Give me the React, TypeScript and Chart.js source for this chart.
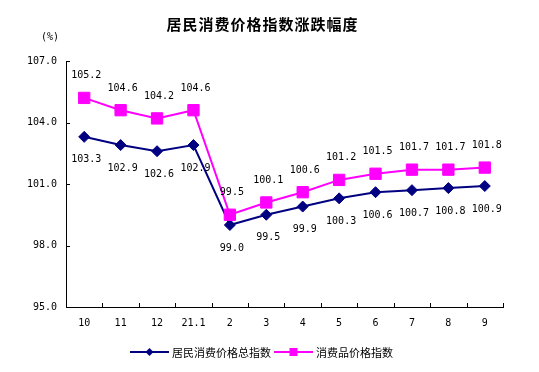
import React, { useEffect, useRef } from 'react';
import { Chart, registerables } from 'chart.js';

Chart.register(...registerables);

const categories = ['10', '11', '12', '21.1', '2', '3', '4', '5', '6', '7', '8', '9'];
const cpiTotal = [103.3, 102.9, 102.6, 102.9, 99.0, 99.5, 99.9, 100.3, 100.6, 100.7, 100.8, 100.9];
const consumerGoods = [105.2, 104.6, 104.2, 104.6, 99.5, 100.1, 100.6, 101.2, 101.5, 101.7, 101.7, 101.8];
const seriesNames = ['居民消费价格总指数', '消费品价格指数'];
const titleText = '居民消费价格指数涨跌幅度';
const unitText = '(%)';
const yMin = 95;
const yMax = 107;
const yStep = 3;

const NAVY = '#000080';
const MAGENTA = '#FF00FF';
const MONO = '"DejaVu Sans Mono", "Liberation Mono", monospace';
const CJK = '"Noto Sans CJK SC", "Noto Sans", sans-serif';

const decorPlugin = {
  id: 'decor',
  afterDatasetsDraw(chart: any) {
    const ctx = chart.ctx;
    ctx.save();
    ctx.font = `10px ${MONO}`;
    ctx.fillStyle = '#000';
    ctx.textAlign = 'center';
    ctx.textBaseline = 'middle';
    chart.data.datasets.forEach((ds: any, i: number) => {
      const meta = chart.getDatasetMeta(i);
      const below = ds.labelPos === 'below';
      meta.data.forEach((pt: any, j: number) => {
        const v = ds.data[j];
        ctx.fillText(v.toFixed(1), pt.x + 2, pt.y + (below ? 23 : -22));
      });
    });
    ctx.restore();
  },
  afterDraw(chart: any) {
    const ctx = chart.ctx;
    const xs = chart.scales.x;
    const ys = chart.scales.y;
    const area = chart.chartArea;
    ctx.save();
    ctx.strokeStyle = '#000';
    ctx.lineWidth = 1;
    // inward y ticks
    ys.ticks.forEach((t: any) => {
      const py = Math.round(ys.getPixelForValue(t.value)) + 0.5;
      ctx.beginPath();
      ctx.moveTo(area.left, py);
      ctx.lineTo(area.left + 4, py);
      ctx.stroke();
    });
    // inward x ticks at category boundaries
    const n = categories.length;
    const step = xs.getPixelForValue(1) - xs.getPixelForValue(0);
    for (let k = 1; k <= n; k++) {
      const px = Math.round(xs.getPixelForValue(k - 1) + step / 2) + 0.5;
      ctx.beginPath();
      ctx.moveTo(px, area.bottom);
      ctx.lineTo(px, area.bottom - 4);
      ctx.stroke();
    }

    // title
    const cx = chart.width / 2 - 8;
    ctx.fillStyle = '#000';
    ctx.textAlign = 'center';
    ctx.textBaseline = 'middle';
    ctx.font = `bold 15px ${CJK}`;
    try { (ctx as any).letterSpacing = '1px'; } catch (e) {}
    ctx.fillText(titleText, cx + 1, 24);
    try { (ctx as any).letterSpacing = '0px'; } catch (e) {}

    // unit
    ctx.font = `10px ${MONO}`;
    ctx.fillText(unitText, 50, 37);

    // legend
    ctx.font = `11px ${CJK}`;
    ctx.textAlign = 'left';
    const lineLen = 39;
    const gap = 3;
    const w1 = ctx.measureText(seriesNames[0]).width;
    const w2 = ctx.measureText(seriesNames[1]).width;
    const total = lineLen + gap + w1 + gap + lineLen + gap + w2;
    let lx = cx - total / 2;
    const ly = 352;
    const items = [
      { color: NAVY, shape: 'diamond', text: seriesNames[0], w: w1 },
      { color: MAGENTA, shape: 'square', text: seriesNames[1], w: w2 },
    ];
    items.forEach((it) => {
      ctx.strokeStyle = it.color;
      ctx.lineWidth = 2;
      ctx.beginPath();
      ctx.moveTo(lx, ly);
      ctx.lineTo(lx + lineLen, ly);
      ctx.stroke();
      const mx = lx + lineLen / 2;
      ctx.fillStyle = it.color;
      ctx.beginPath();
      if (it.shape === 'diamond') {
        ctx.moveTo(mx, ly - 4);
        ctx.lineTo(mx + 4, ly);
        ctx.lineTo(mx, ly + 4);
        ctx.lineTo(mx - 4, ly);
        ctx.closePath();
      } else {
        ctx.rect(mx - 4, ly - 4, 8, 8);
      }
      ctx.fill();
      ctx.fillStyle = '#000';
      ctx.fillText(it.text, lx + lineLen + gap, ly + 1);
      lx += lineLen + gap + it.w + gap;
    });
    ctx.restore();
  },
};

export default function App() {
  const ref = useRef<HTMLCanvasElement | null>(null);
  useEffect(() => {
    if (!ref.current) return;
    const chart = new Chart(ref.current, {
      type: 'line',
      data: {
        labels: categories,
        datasets: [
          {
            label: seriesNames[0],
            data: cpiTotal,
            borderColor: NAVY,
            backgroundColor: NAVY,
            borderWidth: 2,
            pointStyle: 'rectRot',
            pointRadius: 5.5,
            pointBorderWidth: 1,
            tension: 0,
            order: 1,
            labelPos: 'below',
          } as any,
          {
            label: seriesNames[1],
            data: consumerGoods,
            borderColor: MAGENTA,
            backgroundColor: MAGENTA,
            borderWidth: 2,
            pointStyle: 'rect',
            pointRadius: 8,
            pointBorderWidth: 1,
            tension: 0,
            order: 0,
            labelPos: 'above',
          } as any,
        ],
      },
      options: {
        responsive: false,
        animation: false,
        devicePixelRatio: 1,
        layout: { padding: { top: 61, right: 36, left: 0, bottom: 0 } },
        plugins: {
          legend: { display: false },
          title: { display: false },
          tooltip: { enabled: false },
        },
        scales: {
          x: {
            type: 'category',
            offset: true,
            grid: { display: true, drawOnChartArea: false, drawTicks: false, offset: true, color: 'rgba(0,0,0,0)' },
            border: { display: true, color: '#000', width: 1 },
            ticks: {
              color: '#000',
              font: { family: MONO, size: 10 },
              padding: 10,
              maxRotation: 0,
              autoSkip: false,
            },
            afterFit: (s: any) => { s.height = 65; },
          },
          y: {
            min: yMin,
            max: yMax,
            grid: { display: true, drawOnChartArea: false, drawTicks: false, color: 'rgba(0,0,0,0)' },
            border: { display: true, color: '#000', width: 1 },
            ticks: {
              stepSize: yStep,
              color: '#000',
              font: { family: MONO, size: 10 },
              padding: 9,
              callback: (v: any) => Number(v).toFixed(1),
            },
            afterFit: (s: any) => { s.width = 66; },
          },
        },
      },
      plugins: [decorPlugin],
    });
    return () => chart.destroy();
  }, []);
  return (
    <div style={{ position: 'fixed', left: 0, top: 0, width: 539, height: 372, background: '#fff' }}>
      <canvas ref={ref} width={539} height={372} style={{ display: 'block', width: 539, height: 372 }} />
    </div>
  );
}
